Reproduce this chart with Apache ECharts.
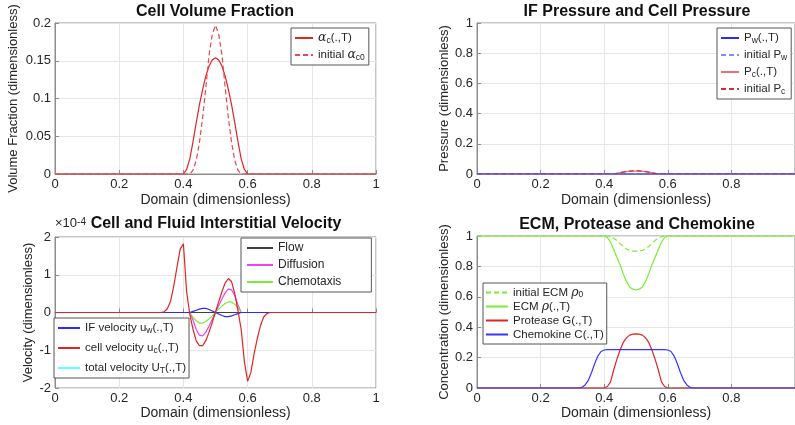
<!DOCTYPE html>
<html>
<head>
<meta charset="utf-8">
<script src="https://cdn.jsdelivr.net/npm/echarts@6/dist/echarts.min.js"></script>
<style>
html, body { margin: 0; padding: 0; background: #fff; }
#main { width: 795px; height: 425px; }
</style>
</head>
<body>
<div id="main"></div>
<script>
// shared domain samples: 0, then 0.30..0.70 step 0.01, then 1
var domainX = [0,
  0.30, 0.31, 0.32, 0.33, 0.34, 0.35, 0.36, 0.37, 0.38, 0.39,
  0.40, 0.41, 0.42, 0.43, 0.44, 0.45, 0.46, 0.47, 0.48, 0.49,
  0.50, 0.51, 0.52, 0.53, 0.54, 0.55, 0.56, 0.57, 0.58, 0.59,
  0.60, 0.61, 0.62, 0.63, 0.64, 0.65, 0.66, 0.67, 0.68, 0.69, 0.70,
  1];

// cell volume fraction
var alphaC = [0,
  0, 0, 0, 0, 0, 0, 0, 0, 0, 0,
  0, 0.006, 0.02, 0.043, 0.068, 0.092, 0.112, 0.13, 0.143, 0.151,
  0.154, 0.151, 0.143, 0.13, 0.112, 0.092, 0.068, 0.043, 0.02, 0.006,
  0, 0, 0, 0, 0, 0, 0, 0, 0, 0, 0,
  0];
var alphaC0 = [0,
  0, 0, 0, 0, 0, 0, 0, 0, 0, 0,
  0, 0, 0, 0.005, 0.018, 0.042, 0.075, 0.115, 0.158, 0.185,
  0.197, 0.185, 0.158, 0.115, 0.075, 0.042, 0.018, 0.005, 0, 0,
  0, 0, 0, 0, 0, 0, 0, 0, 0, 0, 0,
  0];

// pressures
var pw = [0,
  0, 0, 0, 0, 0, 0, 0, 0, 0, 0,
  0, 0, 0, 0, 0, 0, 0, 0, 0, 0,
  0, 0, 0, 0, 0, 0, 0, 0, 0, 0,
  0, 0, 0, 0, 0, 0, 0, 0, 0, 0, 0,
  0];
var pw0 = [0,
  0, 0, 0, 0, 0, 0, 0, 0, 0, 0,
  0, 0, 0, 0, 0, 0, 0, 0, 0, 0,
  0, 0, 0, 0, 0, 0, 0, 0, 0, 0,
  0, 0, 0, 0, 0, 0, 0, 0, 0, 0, 0,
  0];
var pc = [0,
  0, 0, 0, 0, 0, 0, 0, 0, 0, 0,
  0, 0, 0, 0, 0.005, 0.009, 0.013, 0.016, 0.018, 0.019,
  0.02, 0.019, 0.018, 0.016, 0.013, 0.009, 0.005, 0, 0, 0,
  0, 0, 0, 0, 0, 0, 0, 0, 0, 0, 0,
  0];
var pc0 = [0,
  0, 0, 0, 0, 0, 0, 0, 0, 0, 0,
  0, 0, 0, 0, 0.004, 0.008, 0.012, 0.016, 0.019, 0.021,
  0.022, 0.021, 0.019, 0.016, 0.012, 0.008, 0.004, 0, 0, 0,
  0, 0, 0, 0, 0, 0, 0, 0, 0, 0, 0,
  0];

// velocities, in units of 1e-4
var flow = [0,
  0, 0, 0, 0, 0, 0, 0, 0, 0, 0,
  0, 0, 0, 0, 0, 0, 0, 0, 0, 0,
  0, 0, 0, 0, 0, 0, 0, 0, 0, 0,
  0, 0, 0, 0, 0, 0, 0, 0, 0, 0, 0,
  0];
var diffusion = [0,
  0, 0, 0, 0, 0, 0, 0, 0, 0, 0,
  0, 0, 0, -0.2, -0.45, -0.6, -0.62, -0.52, -0.36, -0.18,
  0, 0.18, 0.36, 0.52, 0.62, 0.6, 0.45, 0.2, 0, 0,
  0, 0, 0, 0, 0, 0, 0, 0, 0, 0, 0,
  0];
var chemotaxis = [0,
  0, 0, 0, 0, 0, 0, 0, 0, 0, 0,
  0, 0, 0, -0.12, -0.22, -0.28, -0.28, -0.24, -0.17, -0.09,
  0, 0.09, 0.17, 0.24, 0.28, 0.28, 0.22, 0.12, 0, 0,
  0, 0, 0, 0, 0, 0, 0, 0, 0, 0, 0,
  0];
var uw = [0,
  0, 0, 0, 0, 0, 0, 0, 0, 0, 0,
  0, 0, 0, 0.03, 0.06, 0.09, 0.11, 0.11, 0.08, 0.04,
  0, -0.04, -0.08, -0.11, -0.11, -0.09, -0.06, -0.03, 0, 0,
  0, 0, 0, 0, 0, 0, 0, 0, 0, 0, 0,
  0];
var uc = [0,
  0, 0, 0, 0, 0.02, 0.1, 0.3, 0.7, 1.2, 1.68,
  1.82, 0.55, -0.05, -0.45, -0.75, -0.88, -0.88, -0.74, -0.52, -0.26,
  0.02, 0.28, 0.55, 0.78, 0.9, 0.82, 0.5, 0.05, -0.45, -1.3,
  -1.82, -1.6, -1.1, -0.7, -0.35, -0.12, -0.03, 0, 0, 0, 0,
  0];
var uT = [0,
  0, 0, 0, 0, 0, 0, 0, 0, 0, 0,
  0, 0, 0, 0, 0, 0, 0, 0, 0, 0,
  0, 0, 0, 0, 0, 0, 0, 0, 0, 0,
  0, 0, 0, 0, 0, 0, 0, 0, 0, 0, 0,
  0];

// ECM, protease, chemokine
var rho0 = [1,
  1, 1, 1, 1, 1, 1, 1, 1, 1, 1,
  1, 1, 0.995, 0.985, 0.97, 0.95, 0.93, 0.915, 0.905, 0.9,
  0.9, 0.9, 0.905, 0.915, 0.93, 0.95, 0.97, 0.985, 0.995, 1,
  1, 1, 1, 1, 1, 1, 1, 1, 1, 1, 1,
  1];
var rho = [1,
  1, 1, 1, 1, 1, 1, 1, 1, 1, 1,
  1, 0.99, 0.96, 0.91, 0.86, 0.81, 0.75, 0.7, 0.665, 0.65,
  0.645, 0.65, 0.665, 0.7, 0.75, 0.81, 0.86, 0.91, 0.96, 0.99,
  1, 1, 1, 1, 1, 1, 1, 1, 1, 1, 1,
  1];
var protease = [0,
  0, 0, 0, 0, 0, 0, 0, 0, 0, 0,
  0, 0.01, 0.04, 0.12, 0.19, 0.25, 0.3, 0.33, 0.348, 0.354,
  0.356, 0.354, 0.348, 0.33, 0.3, 0.25, 0.19, 0.12, 0.04, 0.01,
  0, 0, 0, 0, 0, 0, 0, 0, 0, 0, 0,
  0];
var chemokine = [0,
  0, 0, 0, 0.005, 0.02, 0.05, 0.1, 0.16, 0.21, 0.24,
  0.25, 0.253, 0.253, 0.253, 0.253, 0.253, 0.253, 0.253, 0.253, 0.253,
  0.253, 0.253, 0.253, 0.253, 0.253, 0.253, 0.253, 0.253, 0.253, 0.253,
  0.25, 0.24, 0.21, 0.16, 0.1, 0.05, 0.02, 0.005, 0, 0, 0,
  0];

// legend labels (rich text)
var labels = {
  'alphaC': '{gk|α}{sub|c}(.,T)',
  'alphaC0': 'initial {gk|α}{sub|c0}',
  'pw': 'P{sub|w}(.,T)',
  'pw0': 'initial P{sub|w}',
  'pc': 'P{sub|c}(.,T)',
  'pc0': 'initial P{sub|c}',
  'flow': 'Flow',
  'diffusion': 'Diffusion',
  'chemotaxis': 'Chemotaxis',
  'uw': 'IF velocity u{sub|w}(.,T)',
  'uc': 'cell velocity u{sub|c}(.,T)',
  'uT': 'total velocity U{sub|T}(.,T)',
  'rho0': 'initial ECM {gk|ρ}{sub|0}',
  'rho': 'ECM {gk|ρ}(.,T)',
  'protease': 'Protease G(.,T)',
  'chemokine': 'Chemokine C(.,T)'
};

var FONT = '"Liberation Sans", Arial, sans-serif';
var AXIS = '#8c8c8c';
var TXT = '#262626';
var CLEAR = 'rgba(0,0,0,0)';

function pairs(ys) {
  return domainX.map(function (x, i) { return [x, ys[i]]; });
}

function line(name, ys, idx, color, dashed) {
  return {
    name: name, type: 'line', xAxisIndex: idx, yAxisIndex: idx,
    data: pairs(ys), symbol: 'none', animation: false,
    itemStyle: { color: color },
    lineStyle: { color: color, width: 1.2, type: dashed ? [5, 3] : 'solid' }
  };
}

function xAx(idx, showMax, nameGap) {
  return {
    type: 'value', gridIndex: idx, min: 0, max: 1, interval: 0.2,
    name: 'Domain (dimensionless)', nameLocation: 'middle', nameGap: nameGap,
    nameTextStyle: { fontSize: 14, color: TXT, fontFamily: FONT },
    axisLine: { lineStyle: { color: AXIS } },
    axisTick: { inside: true, length: 4, lineStyle: { color: AXIS } },
    axisLabel: { fontSize: 13, color: TXT, margin: 4, showMaxLabel: showMax, fontFamily: FONT },
    splitLine: { show: true, lineStyle: { color: '#e6e6e6' } }
  };
}

function yAx(idx, min, max, interval, name, nameGap) {
  return {
    type: 'value', gridIndex: idx, min: min, max: max, interval: interval,
    name: name, nameLocation: 'middle', nameGap: nameGap,
    nameTextStyle: { fontSize: 13, color: TXT, fontFamily: FONT },
    axisLine: { show: true, lineStyle: { color: AXIS } },
    axisTick: { show: true, inside: true, length: 4, lineStyle: { color: AXIS } },
    axisLabel: { fontSize: 13, color: TXT, margin: 4, fontFamily: FONT },
    splitLine: { show: true, lineStyle: { color: '#e6e6e6' } }
  };
}

function legend(names, left, top, gap, lh, fs, lineW, pad) {
  return {
    data: names, left: left, top: top, orient: 'vertical',
    itemWidth: lineW, itemHeight: 10, itemGap: gap,
    padding: pad,
    borderColor: '#555', borderWidth: 1, backgroundColor: '#fff',
    selectedMode: false,
    itemStyle: { color: CLEAR, borderColor: CLEAR, borderWidth: 0 },
    formatter: function (n) { return labels[n]; },
    textStyle: {
      fontSize: fs, lineHeight: lh, color: TXT, fontFamily: FONT,
      rich: {
        sub: { fontSize: fs - 3, lineHeight: 6, verticalAlign: 'bottom', color: TXT, fontFamily: FONT },
        gk: { fontSize: fs + 1, fontStyle: 'italic', color: TXT, fontFamily: '"DejaVu Serif", serif' }
      }
    }
  };
}

function title(text, x, y) {
  return {
    type: 'text', x: x, y: y,
    style: { text: text, align: 'center', textAlign: 'center', fill: '#111',
      font: 'bold 16px ' + FONT }
  };
}

var RED = '#e02424';
var BLUE = '#2b2bff';
var GREEN = '#77ee33';

var chart = echarts.init(document.getElementById('main'));
chart.setOption({
  animation: false,
  grid: [
    { left: 55, top: 23, width: 321, height: 151 },
    { left: 477, top: 23, width: 320, height: 151 },
    { left: 55, top: 237, width: 321, height: 151 },
    { left: 477, top: 236, width: 320, height: 152 }
  ].map(function (g) {
    g.show = true; g.borderColor = AXIS; g.borderWidth = 1; g.backgroundColor = '#fff';
    return g;
  }),
  xAxis: [xAx(0, true, 19), xAx(1, false, 19), xAx(2, true, 17), xAx(3, false, 17)],
  yAxis: [
    yAx(0, 0, 0.2, 0.05, 'Volume Fraction (dimensionless)', 35),
    yAx(1, 0, 1, 0.2, 'Pressure (dimensionless)', 26),
    yAx(2, -2, 2, 1, 'Velocity (dimensionless)', 20),
    yAx(3, 0, 1, 0.2, 'Concentration (dimensionless)', 26)
  ],
  legend: [
    legend(['alphaC', 'alphaC0'], 291, 28, 3, 14, 11.5, 18, [3, 4, 3, 3]),
    legend(['pw', 'pw0', 'pc', 'pc0'], 717, 28, 3, 14, 11.5, 18, [3, 4, 3, 3]),
    legend(['flow', 'diffusion', 'chemotaxis'], 241, 238, 3, 14, 12, 26, [3, 30, 3, 5]),
    legend(['uw', 'uc', 'uT'], 54, 318, 6, 14, 11.5, 22, [3, 3, 3, 3]),
    legend(['rho0', 'rho', 'protease', 'chemokine'], 483, 283, 1, 13, 11.5, 22, [3, 3, 3, 2])
  ],
  graphic: [
    title('Cell Volume Fraction', 215, 4),
    title('IF Pressure and Cell Pressure', 637, 4),
    title('Cell and Fluid Interstitial Velocity', 216, 216),
    title('ECM, Protease and Chemokine', 637, 217),
    {
      type: 'text', x: 55, y: 217,
      style: {
        text: '×10{sup|-4}', fill: TXT, font: '13px ' + FONT,
        rich: { sup: { fontSize: 10, lineHeight: 6, verticalAlign: 'top', fill: TXT } }
      }
    }
  ],
  series: [
    line('alphaC', alphaC, 0, RED, false),
    line('alphaC0', alphaC0, 0, '#e84848', true),

    line('pc', pc, 1, '#f07070', false),
    line('pc0', pc0, 1, '#d03030', true),
    line('pw0', pw0, 1, '#8888ff', true),
    line('pw', pw, 1, BLUE, false),

    line('uT', uT, 2, '#66ffff', false),
    line('flow', flow, 2, '#404040', false),
    line('diffusion', diffusion, 2, '#ee44ee', false),
    line('chemotaxis', chemotaxis, 2, GREEN, false),
    line('uw', uw, 2, BLUE, false),
    line('uc', uc, 2, RED, false),

    line('rho0', rho0, 3, GREEN, true),
    line('rho', rho, 3, GREEN, false),
    line('protease', protease, 3, RED, false),
    line('chemokine', chemokine, 3, '#3535ff', false)
  ]
});
</script>
</body>
</html>
